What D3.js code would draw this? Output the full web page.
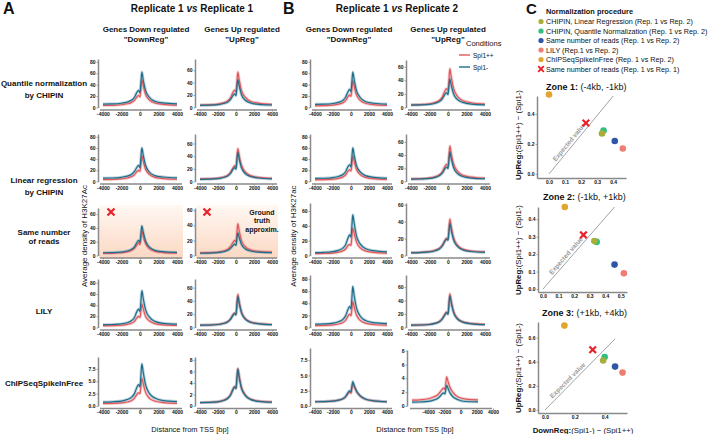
<!DOCTYPE html>
<html><head><meta charset="utf-8">
<script src="https://cdn.jsdelivr.net/npm/d3@7"></script>
<style>
body{margin:0;background:#fff}
svg{display:block}
text{font-family:"Liberation Sans",Arial,Helvetica,sans-serif;fill:#111}
</style></head><body>
<svg id="chart" width="712" height="434"></svg>
<script>
// ---------------- DATA ----------------
const tss = [-4000,-3000,-2000,-1400,-900,-600,-350,-150,0,100,200,350,600,1000,1600,2500,4000];
const xTicks = [-4000,-2000,0,2000,4000];
const conditions = ["Spi1++","Spi1-"];
const rowLabels = [["Quantile normalization","by CHIPIN"],["Linear regression","by CHIPIN"],["Same number","of reads"],["LILY"],["ChIPSeqSpikeInFree"]];
const columnTitles = [["Genes Down regulated","\"DownReg\""],["Genes Up regulated","\"UpReg\""]];

// Replicate 1 vs Replicate 1  (pp = Spi1++, mm = Spi1-)
const r11_qn_down_pp = [3.5,3.8,4.8,6.5,9,12.5,18,21,18.5,34,48,38,23,13.5,8,5.5,4];
const r11_qn_down_mm = [6,6.3,7.5,9.5,13,18,26,30,26,44,62,48,30,18,11,8,6.5];
const r11_qn_up_pp   = [4,4.3,5.5,7.5,11,16,24,28,25,40,57,45,28,17,10,7,5];
const r11_qn_up_mm   = [3.5,3.8,4.6,6.5,9,13,19,22,19,32,45,35,21,12,7.5,5,4];
const r11_lr_down_pp = [3.5,3.8,4.8,6.3,8.8,12,17.5,20,18,32,46,36,22,13,7.5,5.3,4];
const r11_lr_down_mm = [6,6.3,7.5,9.5,13,18,25,29,25,43,60,47,29,17,10.5,8,6.5];
const r11_lr_up_pp   = [4,4.3,5.3,7,10,14.5,21,25,22,37,52,41,26,15.5,9.5,6.5,5];
const r11_lr_up_mm   = [3.5,3.8,4.6,6.3,9,13,19,22,19.5,33,46,36,22,13,8,5.5,4.2];
const r11_snr_down_pp = [3,3.2,4,5.3,7.5,10.5,15,18,16,26,36,28,17.5,10,6,4.3,3.5];
const r11_snr_down_mm = [4,4.2,5,6.5,9,12.5,18.5,22,19,31,43,34,21,12.5,7.5,5.5,4.5];
const r11_snr_up_pp   = [3.5,3.8,4.6,6,8.5,12,17,20,18,30,42,33,20,12,7.5,5.5,4.5];
const r11_snr_up_mm   = [3,3.2,3.9,5,7,9.5,13,15,13.5,22,30,24,15,9,6,4.5,3.8];
const r11_lily_down_pp = [3,3.2,4,5.5,8,11,17,20,18,30,42,33,20,12,7,4.8,3.8];
const r11_lily_down_mm = [5,5.4,6.5,8.5,12.5,18,28,33,29,47,66,52,32,19,11,7.5,6];
const r11_lily_up_pp   = [3.5,3.8,4.6,6.3,9,13,19,22,20,35,50,39,24,14,8.5,6,4.5];
const r11_lily_up_mm   = [3.5,3.7,4.5,6,8.7,12.5,18,21,19,33,47,37,22.5,13,8,5.5,4.2];
const r11_sif_down_pp = [0.5,0.52,0.62,0.8,1.1,1.6,2.3,2.7,2.5,4,5.6,4.5,2.8,1.6,1,0.7,0.55];
const r11_sif_down_mm = [0.8,0.85,1.0,1.3,1.8,2.5,3.7,4.3,3.9,6.2,8.5,6.8,4.3,2.6,1.6,1.1,0.9];
const r11_sif_up_pp   = [0.6,0.63,0.75,1,1.4,2,2.9,3.4,3.1,4.8,6.5,5.2,3.3,2,1.2,0.85,0.7];
const r11_sif_up_mm   = [0.6,0.62,0.72,0.95,1.35,1.9,2.8,3.3,3,4.7,6.4,5,3.1,1.9,1.15,0.8,0.65];

// Replicate 1 vs Replicate 2
const r12_qn_down_pp = [3,3.3,4.2,5.8,8.3,12,18.5,22,19.5,33,47,37,22.5,13,7.5,5,3.8];
const r12_qn_down_mm = [5.5,5.8,7,9,12.5,18,27,32,28,45,62,49,30,18,10.5,7.5,6];
const r12_qn_up_pp   = [4,4.3,5.5,7.5,11,16,24,28,25,40,57,45,28,17,10,7,5];
const r12_qn_up_mm   = [3.5,3.8,4.6,6.3,9,13,19,22,19,31,42,33,20,12,7.5,5,4];
const r12_lr_down_pp = [3,3.3,4.2,5.7,8.2,11.8,18,21,19,32,46,36,22,12.8,7.5,5,3.8];
const r12_lr_down_mm = [5.5,5.8,7,9,12.5,17.5,26,30,26.5,43,60,47,29,17.5,10.5,7.5,6];
const r12_lr_up_pp   = [4,4.3,5.4,7.2,10.5,15,22.5,26,23,38,54,42,26.5,16,9.5,6.7,5];
const r12_lr_up_mm   = [3.5,3.8,4.6,6.3,9,13,19,22,19.5,32,45,35,21,12.5,7.5,5.2,4.2];
const r12_snr_down_pp = [2.5,2.7,3.3,4.5,6.3,8.8,13,15,13.5,26,37,30,18.5,10.5,6.2,4.2,3.2];
const r12_snr_down_mm = [4,4.3,5.3,7,10,14.5,23,28,25,40,55,44,27,16,9.5,6.5,5];
const r12_snr_up_pp   = [3.5,3.8,4.6,6.2,8.8,12.5,17.5,20.5,19,31,43,34,21,12.5,7.5,5.3,4.3];
const r12_snr_up_mm   = [3.2,3.5,4.2,5.6,8,11.5,16.5,19.5,18,28,38,30,18.5,11,6.7,4.7,3.8];
const r12_lily_down_pp = [3,3.3,4.2,5.8,8.3,12,18.5,22,19.5,31,43,34,21,12.3,7.2,5,3.8];
const r12_lily_down_mm = [5.5,5.9,7.2,9.5,13.5,19.5,29.5,35,31,49,68,53,33,19.5,11.5,8,6.5];
const r12_lily_up_pp   = [3.5,3.8,4.6,6.4,9.2,13.5,19.5,23,20.5,35,50,39,24,14,8.5,6,4.5];
const r12_lily_up_mm   = [3.5,3.7,4.5,6.1,8.8,13,18.5,22,19.5,33,47,37,22.5,13,8,5.5,4.2];
const r12_sif_down_pp = [0.7,0.72,0.8,0.95,1.2,1.5,2.0,2.3,2.1,2.9,3.6,3.2,2.4,1.65,1.1,0.85,0.7];
const r12_sif_down_mm = [0.7,0.72,0.8,0.95,1.2,1.55,2.15,2.5,2.3,3.2,4.0,3.4,2.5,1.7,1.15,0.85,0.7];
const r12_sif_up_pp   = [0.85,0.9,1.05,1.3,1.6,2.0,2.4,2.6,2.4,3.3,4.2,3.6,2.7,1.9,1.3,1.0,0.9];
const r12_sif_up_mm   = [0.55,0.58,0.68,0.85,1.1,1.4,1.75,1.9,1.75,2.4,3.0,2.6,1.9,1.3,0.9,0.65,0.6];

// y axis limits and ticks (rows = methods, cols = DownReg, UpReg)
const t80 = [0,20,40,60,80], t60 = [0,20,40,60], tS1 = [0,2.5,5,7.5], tS2 = [0,2,4,6,8];
const yTicksA = [[t80,t60],[t80,t60],[t60,t60],[t80,t60],[tS1,tS2]];
const yTicksB = [[t80,t60],[t80,t60],[t60,t60],[t80,t60],[tS1,tS2]];
const yMaxA = [[85,78],[85,75],[69,63],[87,73],[9.9,8.5]];
const yMaxB = [[85,70],[85,72],[71,62],[87,78],[9.5,8.1]];

// Panel C
const cMethods = ["CHIPIN, Linear Regression (Rep. 1 vs Rep. 2)","CHIPIN, Quantile Normalization (Rep. 1 vs Rep. 2)","Same number of reads (Rep. 1 vs Rep. 2)","LILY (Rep.1 vs Rep. 2)","ChIPSeqSpikeInFree (Rep. 1 vs Rep. 2)","Same number of reads (Rep. 1 vs Rep. 1)"];
const cColors = ["#a9ae3a","#2fbf80","#2f56a5","#f07d74","#e3a52f","#e8222a"];
const zoneTitles = [["Zone 1:"," (-4kb, -1kb)"],["Zone 2:"," (-1kb, +1kb)"],["Zone 3:"," (+1kb, +4kb)"]];
const zone1Down = [0.33,0.34,0.41,0.46,0.0,0.23];
const zone1Up   = [0.27,0.29,0.22,0.17,0.53,0.34];
const zone2Down = [0.33,0.345,0.46,0.52,0.14,0.26];
const zone2Up   = [0.275,0.27,0.14,0.09,0.47,0.31];
const zone3Down = [0.39,0.40,0.47,0.52,0.13,0.32];
const zone3Up   = [0.41,0.44,0.36,0.31,0.70,0.50];
const zoneExpectedEnd = [[0.40,0.52],[0.46,0.47],[0.47,0.59]];
const zoneXTicks = [[0,0.1,0.2,0.3,0.4],[0,0.1,0.2,0.3,0.4,0.5],[0,0.2,0.4]];
const zoneYTicks = [[0,0.2,0.4],[0,0.1,0.2,0.3,0.4],[0,0.2,0.4,0.6]];
const zoneXLim = [[-0.075,0.48],[-0.032,0.54],[-0.047,0.55]];
const zoneYLim = [[-0.027,0.52],[-0.017,0.47],[-0.025,0.73]];

// ---------------- LAYOUT ----------------
const colX = [[103,177],[200,272],[315,387],[411,485]];
const rowZero = [107.5,181.5,255.5,327.5,406];
const rowTop = [[59,59,59,60],[134,134,134,134],[208,208,203,203],[279,279,275,275],[357,357,348,350]];
const RED = "#e0585c", TEAL = "#1d6e8a", RED_BAND = "#ec9c9e", TEAL_BAND = "#86aebf", AX = "#8a8a8a";

const svg = d3.select("#chart");
const defs = svg.append("defs");
const grad = defs.append("linearGradient").attr("id","peach").attr("x1",0).attr("y1",0).attr("x2",0).attr("y2",1);
grad.append("stop").attr("offset","0%").attr("stop-color","#fff8f3");
grad.append("stop").attr("offset","100%").attr("stop-color","#fbd8c2");

function txt(x,y,s,size,opts={}){
  const t = svg.append("text").attr("x",x).attr("y",y).attr("font-size",size)
    .attr("text-anchor",opts.anchor||"start").attr("font-weight",opts.bold?"bold":"normal")
    .attr("dominant-baseline",opts.base||"auto");
  if (opts.fill) t.style("fill",opts.fill);
  if (opts.rot) t.attr("transform",`rotate(${opts.rot},${x},${y})`);
  t.text(s);
  return t;
}

// panel letters & titles
txt(3,14,"A",16,{bold:true});
txt(283,14,"B",16,{bold:true});
txt(526,14,"C",15,{bold:true});
function repTitle(cx,y,a,b){
  const t = svg.append("text").attr("x",cx).attr("y",y).attr("text-anchor","middle").attr("font-size",10).attr("font-weight","bold");
  t.append("tspan").text(a+" ");
  t.append("tspan").attr("font-style","italic").text("vs");
  t.append("tspan").text(" "+b);
}
repTitle(192,12,"Replicate 1","Replicate 1");
repTitle(397,12,"Replicate 1","Replicate 2");

const colTitleX = [146,242,349,448];
colTitleX.forEach((cx,i)=>{
  const ct = columnTitles[i%2];
  txt(cx,32,ct[0],8,{bold:true,anchor:"middle"});
  txt(cx,41.5,ct[1],8,{bold:true,anchor:"middle"});
});

// row labels
const rowLabelY = [[83,95],[180,192],[232,241],[311],[383]];
rowLabels.forEach((lines,r)=>lines.forEach((s,k)=>txt(44,rowLabelY[r][k],s,8,{bold:true,anchor:"middle",base:"central"})));

// y labels / x labels
txt(84,236,"Average density of H3K27Ac",8,{anchor:"middle",base:"central",rot:-90});
txt(293,236,"Average density of H3K27ac",8,{anchor:"middle",base:"central",rot:-90});
txt(190,429,"Distance from TSS [bp]",7.5,{anchor:"middle",base:"central"});
txt(415,429,"Distance from TSS [bp]",7.5,{anchor:"middle",base:"central"});

// series tables
const seriesA = [
  [[r11_qn_down_pp,r11_qn_down_mm],[r11_qn_up_pp,r11_qn_up_mm]],
  [[r11_lr_down_pp,r11_lr_down_mm],[r11_lr_up_pp,r11_lr_up_mm]],
  [[r11_snr_down_pp,r11_snr_down_mm],[r11_snr_up_pp,r11_snr_up_mm]],
  [[r11_lily_down_pp,r11_lily_down_mm],[r11_lily_up_pp,r11_lily_up_mm]],
  [[r11_sif_down_pp,r11_sif_down_mm],[r11_sif_up_pp,r11_sif_up_mm]]
];
const seriesB = [
  [[r12_qn_down_pp,r12_qn_down_mm],[r12_qn_up_pp,r12_qn_up_mm]],
  [[r12_lr_down_pp,r12_lr_down_mm],[r12_lr_up_pp,r12_lr_up_mm]],
  [[r12_snr_down_pp,r12_snr_down_mm],[r12_snr_up_pp,r12_snr_up_mm]],
  [[r12_lily_down_pp,r12_lily_down_mm],[r12_lily_up_pp,r12_lily_up_mm]],
  [[r12_sif_down_pp,r12_sif_down_mm],[r12_sif_up_pp,r12_sif_up_mm]]
];

function styleAxis(g){
  g.selectAll("line").attr("stroke",AX).attr("stroke-width",0.8);
  g.selectAll(".domain").attr("stroke",AX).attr("stroke-width",1.5);
  g.selectAll("text").attr("font-size",5).attr("font-weight","bold").style("fill","#111").attr("font-family","Liberation Sans, Arial, sans-serif");
}

function drawProfile(p){
  const g = svg.append("g");
  const x = d3.scaleLinear().domain([-4000,4000]).range(p.xr);
  const y = d3.scaleLinear().domain([0,p.ymax]).range([p.zero,p.top]);
  if (p.shade) g.append("rect").attr("x",p.xr[0]-4).attr("y",p.top-3).attr("width",p.xr[1]-p.xr[0]+10).attr("height",p.zero-p.top+6).attr("fill","url(#peach)");
  const xa = p.axisScale || x;
  const gx = g.append("g").attr("transform",`translate(0,${p.zero+2.5})`)
    .call(d3.axisBottom(xa).tickValues(xTicks).tickFormat(d=>String(d)).tickSize(1.5).tickSizeOuter(0).tickPadding(0.5));
  gx.select(".domain").remove();
  styleAxis(gx);
  const sp = p.spine || [p.xr[0]-3,p.xr[1]+5];
  g.append("line").attr("x1",sp[0]).attr("x2",sp[1]).attr("y1",p.zero+2.5).attr("y2",p.zero+2.5).attr("stroke",AX).attr("stroke-width",1.6);
  const gy = g.append("g").attr("transform",`translate(${p.xr[0]-5},0)`)
    .call(d3.axisLeft(y).tickValues(p.yticks).tickFormat(p.yfmt).tickSize(1.5).tickSizeOuter(0).tickPadding(1));
  styleAxis(gy);
  const line = d3.line().x((d,i)=>x(tss[i])).y(d=>y(d)).curve(d3.curveMonotoneX);
  const [pp,mm] = p.series;
  g.append("path").attr("d",line(pp)).attr("fill","none").attr("stroke",RED_BAND).attr("stroke-width",3).attr("opacity",0.55);
  g.append("path").attr("d",line(mm)).attr("fill","none").attr("stroke",TEAL_BAND).attr("stroke-width",3).attr("opacity",0.55);
  g.append("path").attr("d",line(pp)).attr("fill","none").attr("stroke",RED).attr("stroke-width",1.2);
  g.append("path").attr("d",line(mm)).attr("fill","none").attr("stroke",TEAL).attr("stroke-width",1.2);
}

const fmtInt = d=>String(d);
const fmt1 = d=>d3.format(".1f")(d);
[seriesA,seriesB].forEach((S,panel)=>{
  for (let r=0;r<5;r++){
    for (let c=0;c<2;c++){
      const ci = panel*2+c;
      const p = {
        xr: colX[ci].slice(), zero: rowZero[r], top: rowTop[r][ci],
        ymax: (panel?yMaxB:yMaxA)[r][c], yticks: (panel?yTicksB:yTicksA)[r][c],
        yfmt: (r===4 && c===0) ? fmt1 : fmtInt,
        series: S[r][c], shade: (panel===0 && r===2)
      };
      if (panel===1 && r===4 && c===1){
        p.xr = [412,478];
        p.axisScale = d3.scaleLinear().domain([-6000,4000]).range([412,493]);
        p.spine = [410,492];
      }
      drawProfile(p);
    }
  }
});

// red crosses in "Same number of reads" row (Rep1 vs Rep1)
function cross(g,cx,cy,s,w){
  g.append("path").attr("d",`M${cx-s},${cy-s}L${cx+s},${cy+s}M${cx-s},${cy+s}L${cx+s},${cy-s}`)
    .attr("stroke",cColors[5]).attr("stroke-width",w).attr("fill","none");
}
cross(svg,111,212,3.5,2.2);
cross(svg,207,212,3.5,2.2);
[["Ground",212],["truth",220.5],["approxim.",229]].forEach(([s,yy])=>txt(262,yy,s,7,{bold:true,anchor:"middle",base:"central"}));

// Conditions legend
txt(466,43,"Conditions",7.5,{base:"central"});
svg.append("line").attr("x1",459).attr("x2",470).attr("y1",55).attr("y2",55).attr("stroke",RED).attr("stroke-width",1.4);
svg.append("line").attr("x1",459).attr("x2",470).attr("y1",67).attr("y2",67).attr("stroke",TEAL).attr("stroke-width",1.4);
txt(473,55,conditions[0],6.5,{base:"central"});
txt(473,67,conditions[1],6.5,{base:"central"});

// ---------------- PANEL C ----------------
txt(546,11,"Normalization procedure",7.4,{bold:true,base:"central"});
const legY = [21.5,31,40.5,50,59.5,69];
cMethods.forEach((m,i)=>{
  if (i<5) svg.append("circle").attr("cx",541).attr("cy",legY[i]).attr("r",2.6).attr("fill",cColors[i]);
  else cross(svg,541,legY[i],2.8,1.9);
  txt(546,legY[i],m,7.2,{base:"central"});
});

const zoneTitleXY = [[546,87],[543,197],[542,313]];
const zoneXRange = [[537,626],[538,627],[538,627]];
const zoneYRange = [[178,96],[292,207],[413,322]];
const zoneDown = [zone1Down,zone2Down,zone3Down];
const zoneUp = [zone1Up,zone2Up,zone3Up];
const zoneYLabelY = [135,250,368];

for (let z=0; z<3; z++){
  const g = svg.append("g");
  const x = d3.scaleLinear().domain(zoneXLim[z]).range(zoneXRange[z]);
  const y = d3.scaleLinear().domain(zoneYLim[z]).range(zoneYRange[z]);
  const t = g.append("text").attr("x",zoneTitleXY[z][0]).attr("y",zoneTitleXY[z][1]).attr("font-size",9).attr("dominant-baseline","central");
  t.append("tspan").attr("font-weight","bold").text(zoneTitles[z][0]);
  t.append("tspan").text(zoneTitles[z][1]);
  const gx = g.append("g").attr("transform",`translate(0,${zoneYRange[z][0]})`)
    .call(d3.axisBottom(x).tickValues(zoneXTicks[z]).tickFormat(fmt1).tickSize(1.5).tickSizeOuter(0).tickPadding(1));
  styleAxis(gx);
  const gy = g.append("g").attr("transform",`translate(${zoneXRange[z][0]},0)`)
    .call(d3.axisLeft(y).tickValues(zoneYTicks[z]).tickFormat(fmt1).tickSize(1.5).tickSizeOuter(0).tickPadding(1));
  styleAxis(gy);
  // expected value line
  const e = zoneExpectedEnd[z];
  const x0=x(0), y0=y(0), x1=x(e[0]), y1=y(e[1]);
  g.append("line").attr("x1",x0).attr("y1",y0).attr("x2",x1).attr("y2",y1).attr("stroke","#8a8a8a").attr("stroke-width",0.8);
  const ang = Math.atan2(y1-y0,x1-x0)*180/Math.PI;
  const len = Math.hypot(x1-x0,y1-y0);
  const ux=(x1-x0)/len, uy=(y1-y0)/len;
  const tx = x0+ux*len*0.37 + uy*5, ty = y0+uy*len*0.37 - ux*5;
  g.append("text").attr("x",tx).attr("y",ty).attr("font-size",6.5).attr("text-anchor","middle").attr("dominant-baseline","central")
    .attr("transform",`rotate(${ang},${tx},${ty})`).style("fill","#9a9a9a").attr("font-weight","bold").text("Expected value");
  // points
  const order = [1,0,2,3,4];
  order.forEach(i=>{
    g.append("circle").attr("cx",x(zoneDown[z][i])).attr("cy",y(zoneUp[z][i])).attr("r",3.3).attr("fill",cColors[i]);
  });
  cross(g,x(zoneDown[z][5]),y(zoneUp[z][5]),3.3,2.2);
  // y label
  const yl = g.append("text").attr("x",518).attr("y",zoneYLabelY[z]).attr("font-size",7.8).attr("text-anchor","middle")
    .attr("dominant-baseline","central").attr("transform",`rotate(-90,518,${zoneYLabelY[z]})`);
  yl.append("tspan").attr("font-weight","bold").text("UpReg:");
  yl.append("tspan").text("(Spi1++) \u2212 (Spi1-)");
}
const xl = svg.append("text").attr("x",583).attr("y",430).attr("font-size",7.8).attr("text-anchor","middle").attr("dominant-baseline","central");
xl.append("tspan").attr("font-weight","bold").text("DownReg:");
xl.append("tspan").text("(Spi1-) \u2212 (Spi1++)");
</script>
</body></html>
